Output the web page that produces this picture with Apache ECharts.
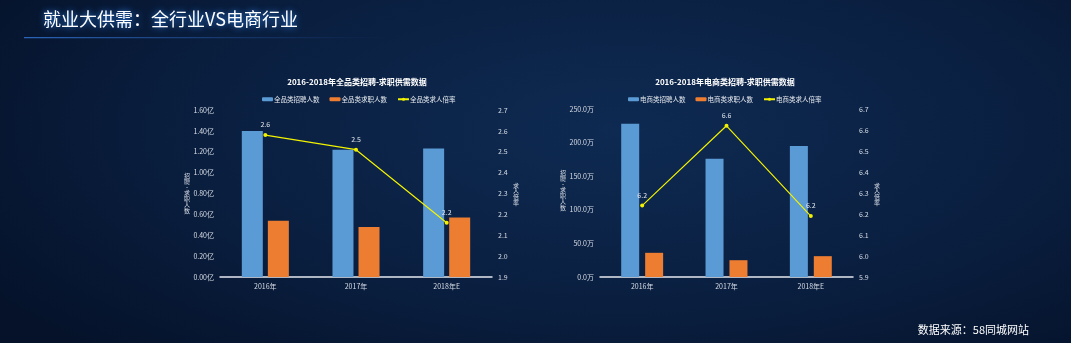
<!DOCTYPE html>
<html>
<head>
<meta charset="utf-8">
<script src="https://cdn.jsdelivr.net/npm/echarts@6/dist/echarts.min.js"></script>
<style>
  html, body { margin: 0; padding: 0; width: 1071px; height: 343px; overflow: hidden; }
  #chart { width: 1071px; height: 343px;
    background: radial-gradient(ellipse 70% 90% at 58% 38%, #0e2a52 0%, #0a1f40 55%, #05122a 100%); }
</style>
</head>
<body>
<div id="chart"></div>
<script>
// Categories shared by both panels
const categories = ['2016年', '2017年', '2018年E'];

// All industries: postings / job seekers (亿人) and ratio
const allPostings = [1.40, 1.22, 1.23];
const allSeekers = [0.54, 0.48, 0.57];
const allRatio = [2.58, 2.51, 2.16];

// E-commerce: postings / job seekers (万人) and ratio
const ecPostings = [228, 176, 195];
const ecSeekers = [36, 25, 31];
const ecRatio = [6.24, 6.62, 6.19];

const seriesNames = {
  all: ['全品类招聘人数', '全品类求职人数', '全品类求人倍率'],
  ec: ['电商类招聘人数', '电商类求职人数', '电商类求人倍率']
};
const countAxisName = '招聘-求职人数';
const ratioAxisName = '求人倍率';

const FONT = '"Noto Sans CJK SC", "Noto Sans", sans-serif';
const BLUE = '#5b9bd5';
const ORANGE = '#ed7d31';
const YELLOW = '#f2f200';
const vertical = s => s.split('').join('\n');

function valueAxis(gridIndex, min, max, interval, fmt) {
  return {
    type: 'value', gridIndex, min, max, interval,
    axisLine: { show: false }, axisTick: { show: false }, splitLine: { show: false },
    axisLabel: { color: '#d8dde6', fontSize: 7, margin: 6, fontFamily: FONT, formatter: fmt }
  };
}

function catAxis(gridIndex) {
  return {
    type: 'category', gridIndex, data: categories,
    axisLine: { lineStyle: { color: '#e6e9ef', width: 1.5 } },
    axisTick: { show: false },
    axisLabel: { color: '#d8dde6', fontSize: 7, margin: 6, fontFamily: FONT }
  };
}

function barSeries(name, data, color, idx, width, gap) {
  return { name, type: 'bar', xAxisIndex: idx, yAxisIndex: idx * 2, data,
    barWidth: width, barGap: gap, itemStyle: { color } };
}

function lineSeries(name, data, idx) {
  return { name, type: 'line', xAxisIndex: idx, yAxisIndex: idx * 2 + 1, data,
    symbol: 'circle', symbolSize: 4,
    lineStyle: { color: YELLOW, width: 1.2 }, itemStyle: { color: YELLOW },
    label: { show: true, position: 'top', distance: 5, color: '#e4e8ee', fontSize: 7,
      fontFamily: FONT, formatter: p => p.value.toFixed(1) } };
}

// Upright, stacked axis titles
function axisTitle(x, y, text) {
  return { type: 'text', x, y,
    style: { text: vertical(text), fill: '#d8dde6', font: '6px ' + FONT, lineHeight: 5.8,
      align: 'center', verticalAlign: 'middle' } };
}

const legendBase = {
  itemWidth: 11, itemHeight: 4, itemGap: 10, top: 91,
  textStyle: { color: '#e4e8ee', fontSize: 6.5, fontFamily: FONT, padding: [0, 0, 0, -4] }
};

const chart = echarts.init(document.getElementById('chart'));
chart.setOption({
  backgroundColor: 'transparent',
  animation: false,
  title: [
    { text: '2016-2018年全品类招聘-求职供需数据', left: 352, top: 73, textAlign: 'center',
      textStyle: { color: '#ffffff', fontSize: 8, fontWeight: 'bold', fontFamily: FONT } },
    { text: '2016-2018年电商类招聘-求职供需数据', left: 720, top: 73, textAlign: 'center',
      textStyle: { color: '#ffffff', fontSize: 8, fontWeight: 'bold', fontFamily: FONT } }
  ],
  legend: [
    Object.assign({ left: 257, data: seriesNames.all }, legendBase),
    Object.assign({ left: 623, data: seriesNames.ec }, legendBase)
  ],
  grid: [
    { left: 220, width: 272, top: 110, height: 167 },
    { left: 600, width: 253, top: 109, height: 168 }
  ],
  xAxis: [catAxis(0), catAxis(1)],
  yAxis: [
    valueAxis(0, 0, 1.6, 0.2, v => v.toFixed(2) + '亿'),
    valueAxis(0, 1.9, 2.7, 0.1, v => v.toFixed(1)),
    valueAxis(1, 0, 250, 50, v => v.toFixed(1) + '万'),
    valueAxis(1, 5.9, 6.7, 0.1, v => v.toFixed(1))
  ],
  series: [
    barSeries(seriesNames.all[0], allPostings, BLUE, 0, 21, '24%'),
    barSeries(seriesNames.all[1], allSeekers, ORANGE, 0, 21, '24%'),
    lineSeries(seriesNames.all[2], allRatio, 0),
    barSeries(seriesNames.ec[0], ecPostings, BLUE, 1, 18, '33%'),
    barSeries(seriesNames.ec[1], ecSeekers, ORANGE, 1, 18, '33%'),
    lineSeries(seriesNames.ec[2], ecRatio, 1)
  ],
  graphic: [
    { type: 'text', left: 43, top: 10,
      style: { text: '就业大供需：全行业VS电商行业', fill: '#ffffff', font: '18px ' + FONT,
        textShadowColor: '#2f86f0', textShadowBlur: 6 } },
    { type: 'rect', left: 24, top: 37, shape: { width: 370, height: 1.2 },
      style: { fill: new echarts.graphic.LinearGradient(0, 0, 1, 0, [
        { offset: 0, color: 'rgba(48,110,200,0.9)' },
        { offset: 0.5, color: 'rgba(40,90,170,0.5)' },
        { offset: 1, color: 'rgba(30,70,140,0)' }]) } },
    axisTitle(187, 193, countAxisName),
    axisTitle(516, 194, ratioAxisName),
    axisTitle(563, 190, countAxisName),
    axisTitle(877, 194, ratioAxisName),
    { type: 'text', right: 42, top: 324,
      style: { text: '数据来源：58同城网站', fill: '#ffffff', font: '11px ' + FONT } }
  ]
});
</script>
</body>
</html>
